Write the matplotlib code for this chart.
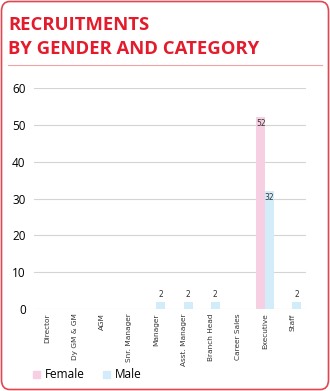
import numpy as np
import matplotlib.pyplot as plt
from matplotlib.patches import FancyBboxPatch, Patch
from matplotlib.lines import Line2D

categories = ['Director', 'Dy GM & GM', 'AGM', 'Snr. Manager', 'Manager',
              'Asst. Manager', 'Branch Head', 'Career Sales', 'Executive', 'Staff']
female = [0, 0, 0, 0, 0, 0, 0, 0, 52, 0]
male = [0, 0, 0, 0, 2, 2, 2, 0, 32, 2]
yticks = [0, 10, 20, 30, 40, 50, 60]

red = '#e31b2c'
pink = '#f6d0e2'
blue = '#d2ecf9'

W, H = 330, 391
fig = plt.figure(figsize=(W / 100, H / 100), dpi=100)

# rounded border
fig.patches.append(FancyBboxPatch((1.5 / W, 1.5 / H), (W - 3) / W, (H - 3) / H,
                                  boxstyle='round,pad=0,rounding_size=0.025',
                                  transform=fig.transFigure, fill=False,
                                  edgecolor='#e2474f', linewidth=1.2))

fig.text(8 / W, 1 - 30 / H, 'RECRUITMENTS', color=red, fontsize=13.3,
         fontweight='bold', family='Open Sans', va='baseline')
fig.text(8 / W, 1 - 54 / H, 'BY GENDER AND CATEGORY', color=red, fontsize=13.3,
         fontweight='bold', family='Open Sans', va='baseline')
fig.add_artist(Line2D([8 / W, 322 / W], [1 - 65 / H, 1 - 65 / H], color='#f2a3a3',
                      linewidth=0.8, transform=fig.transFigure))

ax = fig.add_axes([34 / W, (H - 309) / H, 272 / W, 221 / H])
x = np.arange(len(categories))
w = 0.33
ax.bar(x - w / 2, female, width=w, color=pink, zorder=2)
ax.bar(x + w / 2, male, width=w, color=blue, zorder=2)

for xs, vals in ((x - w / 2, female), (x + w / 2, male)):
    for xi, v in zip(xs, vals):
        if v == 0:
            continue
        if v > 10:
            ax.text(xi, v - 0.4, str(v), ha='center', va='top', fontsize=5.5,
                    color='#333333', family='DejaVu Sans')
        else:
            ax.text(xi, v + 0.6, str(v), ha='center', va='bottom', fontsize=5.5,
                    color='#333333', family='DejaVu Sans')

ax.set_xlim(-0.5, len(categories) - 0.5)
ax.set_ylim(0, 60)
ax.set_yticks(yticks)
ax.set_yticklabels([str(t) for t in yticks], fontsize=8.5, family='Open Sans')
ax.set_xticks(x)
ax.set_xticklabels(categories, rotation=90, fontsize=5.3, color='#333333',
                   family='DejaVu Sans')
ax.tick_params(length=0)
ax.tick_params(axis='y', pad=6)
ax.tick_params(axis='x', pad=3)
for s in ax.spines.values():
    s.set_visible(False)
for t in yticks:
    ax.axhline(t, color='#d4d4d4', linewidth=0.8, zorder=1)

fig.legend(handles=[Patch(color=pink, label='Female'), Patch(color=blue, label='Male')],
           loc='center left', bbox_to_anchor=(22 / W, 1 - 375 / H), ncol=2,
           frameon=False, prop={'family': 'Open Sans', 'size': 8.5},
           handlelength=0.6, handleheight=0.6, handletextpad=0.45, columnspacing=1.5)

fig.savefig('out.png', dpi=100)
